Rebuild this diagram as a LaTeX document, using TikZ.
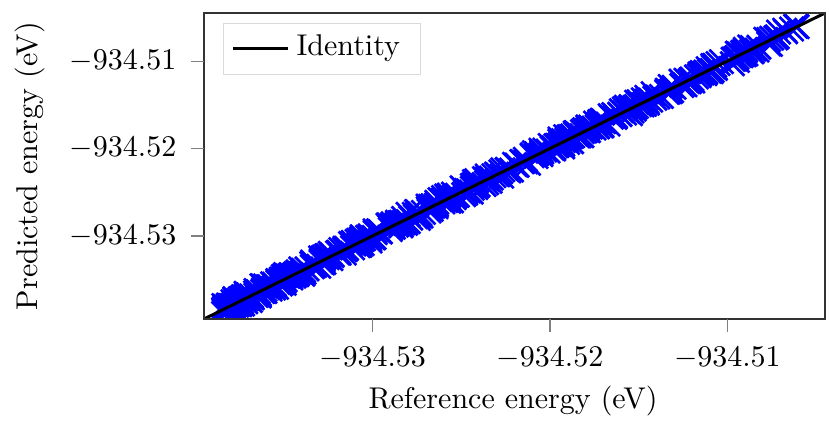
\documentclass[tikz,border=0pt]{standalone}
\usetikzlibrary{positioning}
\tikzset{
  datamark/.style={blue, line width=0.9pt},
  tickline/.style={black!50, line width=0.4pt},
  frame/.style={black!80, line width=0.6pt},
  identity/.style={black, line width=1pt},
}
\begin{document}
\begin{tikzpicture}[x=0.33333pt, y=-0.33333pt]
\useasboundingbox (0,0) rectangle (829,432);
% data area, 1 unit = 1 meV above -934.5395
\begin{scope}[shift={(204,319)}, x=5.914pt, y=2.914pt]
\coordinate (lo) at (0,0);
\coordinate (hi) at (35,35);
\begin{scope}
\clip (lo) rectangle (hi);
\pgfmathsetseed{4711}
\foreach \i in {1,...,470} {
  \pgfmathsetmacro\u{1.1+32.4*rnd^1.5}
  \pgfmathsetmacro\v{\u+0.3*(rand+rand)}
  \draw[datamark] (\u,\v) +(-4pt,-4pt) -- +(4pt,4pt) +(-4pt,4pt) -- +(4pt,-4pt);
}
\draw[identity] (lo) -- (hi);
\end{scope}
\draw[frame] (lo) rectangle (hi);
% ticks
\foreach \t/\lab in {9.5/$-934.53$, 19.5/$-934.52$, 29.5/$-934.51$} {
  \draw[tickline] (\t,0) -- ++(0,-4.3pt);
  \node[below=5.9pt] at (\t,0) {\lab};
  \draw[tickline] (0,\t) -- ++(-4.3pt,0);
  \node[left=5.7pt] at (0,\t) {\lab};
}
\end{scope}
% legend
\node[draw=black!15, fill=white, anchor=north west,
      minimum width=65.7pt, minimum height=17pt] (legend) at (223,23) {};
\draw[identity] (233,48) -- (288,48);
\node[anchor=west, inner sep=0pt] (idtext) at (296,48) {Identity};
% axis labels
\node[rotate=90] (ylabel) at (30,166) {Predicted energy (eV)};
\node (xlabel) at (513,401) {Reference energy (eV)};
\end{tikzpicture}
\end{document}
